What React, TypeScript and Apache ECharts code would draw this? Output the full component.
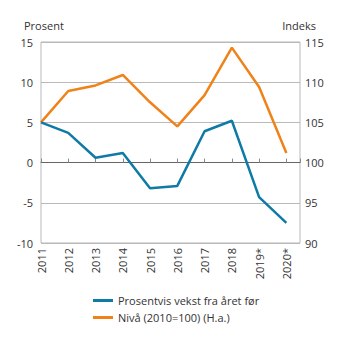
import React, { useEffect, useRef } from "react";
import * as echarts from "echarts";

const years = [2011, 2012, 2013, 2014, 2015, 2016, 2017, 2018, 2019, 2020];
const yearLabels = ["2011", "2012", "2013", "2014", "2015", "2016", "2017", "2018", "2019*", "2020*"];
const growth = [5.0, 3.7, 0.6, 1.2, -3.2, -2.9, 3.9, 5.2, -4.3, -7.5];
const level = [105.0, 108.9, 109.6, 110.9, 107.5, 104.5, 108.4, 114.3, 109.4, 101.2];
const seriesNames = ["Prosentvis vekst fra året før", "Nivå (2010=100) (H.a.)"];
const leftTicks = [-10, 15, 5];
const rightTicks = [90, 115, 5];

const BLUE = "#0e7ba6";
const ORANGE = "#ef8219";
const GRID = "#b9b9b9";
const FONT = "Open Sans";

export default function App() {
  const ref = useRef<HTMLDivElement>(null);
  useEffect(() => {
    if (!ref.current) return;
    const chart = echarts.init(ref.current, null, { renderer: "svg" });
    const labelFor = (v: number) => {
      const i = years.indexOf(v);
      return i >= 0 ? yearLabels[i] : "";
    };
    chart.setOption({
      animation: false,
      textStyle: { fontFamily: FONT },
      grid: { left: 41, right: 45, top: 42, bottom: 98, show: true, borderColor: GRID, borderWidth: 1 },
      graphic: [
        { type: "text", left: 24, top: 20, style: { text: "Prosent", font: `11px "${FONT}"`, fill: "#333" } },
        { type: "text", right: 29, top: 20, style: { text: "Indeks", font: `11px "${FONT}"`, fill: "#333" } },
      ],
      legend: {
        orient: "vertical",
        left: 88,
        top: 290,
        itemWidth: 20,
        itemHeight: 3,
        itemGap: 6,
        icon: "rect",
        textStyle: { fontFamily: FONT, fontSize: 11, color: "#333" },
        data: seriesNames,
      },
      xAxis: [
        {
          type: "value",
          min: 2011,
          max: 2020.5,
          interval: 1,
          axisLine: { show: false, onZero: false },
          axisTick: { show: false },
          splitLine: { show: false },
          axisLabel: {
            rotate: 90,
            margin: 5,
            fontSize: 11,
            color: "#333",
            fontFamily: FONT,
            showMaxLabel: false,
            formatter: (v: number) => labelFor(v),
          },
        },
        {
          type: "value",
          min: 2011,
          max: 2020.5,
          interval: 1,
          position: "bottom",
          axisLine: { show: true, onZero: true, lineStyle: { color: "#666", width: 1 } },
          axisTick: { show: true, inside: true, length: 4, lineStyle: { color: "#888" } },
          axisLabel: { show: false },
          splitLine: { show: false },
        },
      ],
      yAxis: [
        {
          type: "value",
          min: leftTicks[0],
          max: leftTicks[1],
          interval: leftTicks[2],
          axisLine: { show: false },
          axisTick: { show: false },
          splitLine: { show: true, lineStyle: { color: GRID, width: 1 } },
          axisLabel: { margin: 8, fontSize: 11, color: "#333", fontFamily: FONT },
        },
        {
          type: "value",
          min: rightTicks[0],
          max: rightTicks[1],
          interval: rightTicks[2],
          axisLine: { show: false },
          axisTick: { show: false },
          splitLine: { show: false },
          axisLabel: { margin: 5, fontSize: 11, color: "#333", fontFamily: FONT },
        },
      ],
      series: [
        {
          name: seriesNames[0],
          type: "line",
          xAxisIndex: 0,
          yAxisIndex: 0,
          data: years.map((y, i) => [y, growth[i]]),
          showSymbol: false,
          lineStyle: { color: BLUE, width: 2.5 },
          itemStyle: { color: BLUE },
          z: 3,
        },
        {
          name: seriesNames[1],
          type: "line",
          xAxisIndex: 0,
          yAxisIndex: 1,
          data: years.map((y, i) => [y, level[i]]),
          showSymbol: false,
          lineStyle: { color: ORANGE, width: 2.5 },
          itemStyle: { color: ORANGE },
          z: 2,
        },
      ],
    });
    return () => chart.dispose();
  }, []);
  return <div ref={ref} style={{ width: 345, height: 341, margin: -8 }} />;
}
